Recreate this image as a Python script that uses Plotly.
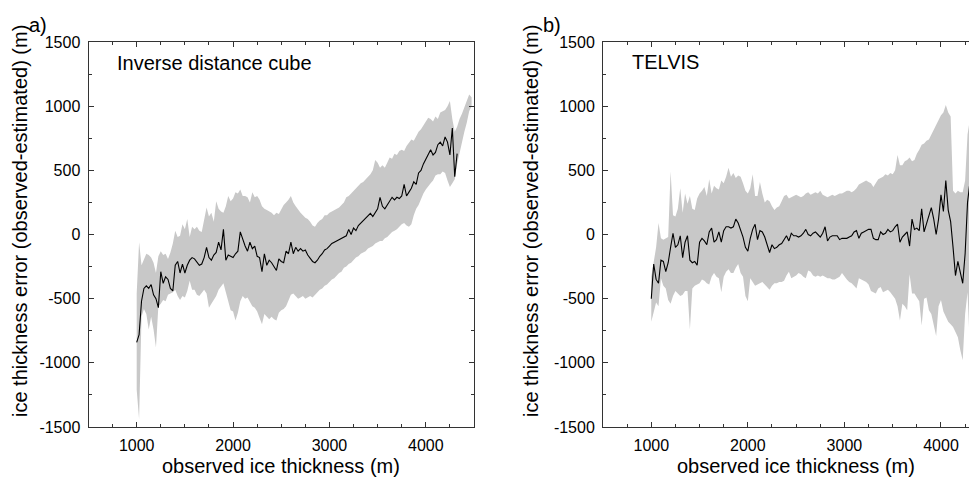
import plotly.graph_objects as go

# panel a) Inverse distance cube
thick_a = [
    1000, 1025, 1050, 1075, 1100, 1125, 1150, 1175, 1200, 1225,
    1250, 1275, 1300, 1325, 1350, 1375, 1400, 1425, 1450, 1475,
    1500, 1525, 1550, 1575, 1600, 1625, 1650, 1675, 1700, 1725,
    1750, 1775, 1800, 1825, 1850, 1875, 1900, 1925, 1950, 1975,
    2000, 2025, 2050, 2075, 2100, 2125, 2150, 2175, 2200, 2225,
    2250, 2275, 2300, 2325, 2350, 2375, 2400, 2425, 2450, 2475,
    2500, 2525, 2550, 2575, 2600, 2625, 2650, 2675, 2700, 2725,
    2750, 2775, 2800, 2825, 2850, 2875, 2900, 2925, 2950, 2975,
    3000, 3025, 3050, 3075, 3100, 3125, 3150, 3175, 3200, 3225,
    3250, 3275, 3300, 3325, 3350, 3375, 3400, 3425, 3450, 3475,
    3500, 3525, 3550, 3575, 3600, 3625, 3650, 3675, 3700, 3725,
    3750, 3775, 3800, 3825, 3850, 3875, 3900, 3925, 3950, 3975,
    4000, 4025, 4050, 4075, 4100, 4125, 4150, 4175, 4200, 4225,
    4250, 4275, 4300, 4325, 4350, 4375, 4400, 4425, 4450, 4475,
]
err_a = [
    -840, -780, -520, -420, -400, -420, -390, -470, -500, -570,
    -290, -380, -330, -350, -420, -440, -240, -210, -300, -230,
    -300, -240, -200, -180, -190, -220, -240, -230, -180, -100,
    -180, -200, -160, -140, -60, -120, 40, -200, -160, -170,
    -180, -150, -130, 20, -40, -90, -130, -60, -110, -90,
    -170, -180, -290, -150, -240, -200, -220, -250, -280, -190,
    -210, -220, -130, -150, -60, -150, -100, -130, -110, -130,
    -120, -160, -190, -210, -220, -200, -170, -150, -120, -110,
    -90, -70, -60, -50, -40, -30, -20, -10, 40, 0,
    50, 30, 70, 90, 110, 130, 150, 165, 140, 170,
    200, 290, 220, 200, 230, 260, 290, 270, 290, 280,
    300, 390, 300, 330, 360, 410, 390, 480, 500, 550,
    590, 620, 660, 620, 640, 700, 720, 690, 760, 720,
    620, 830, 450, 630,
]
err_a_hi = [
    -460, -60, -240, -200, -150, -160, -180, -220, -300, -170,
    -130, -160, -150, -190, -140, -70, 30, -20, -10, 80,
    40, 120, -20, 60, 40, 60, 30, 20, 120, 210,
    140, 170, 100, 260, 200, 180, 170, 220, 300, 260,
    280, 330, 320, 350, 300, 300, 290, 250, 330, 290,
    300, 270, 220, 200, 190, 180, 170, 150, 170, 160,
    200, 230, 250, 270, 300, 250, 220, 190, 170, 150,
    130, 120, 100, 70, 60, 90, 110, 120, 150, 150,
    170, 180, 190, 200, 210, 230, 250, 290, 300, 320,
    340, 360, 380, 400, 410, 430, 450, 470, 500, 580,
    560, 520, 540, 520, 560, 600, 590, 630, 620, 650,
    660, 650, 690, 720, 740, 730, 770, 800, 820, 850,
    870, 910, 900, 880, 920, 900, 950, 960, 970, 1000,
    1040, 900, 800, 840, 900, 940, 990, 1030, 1090, 1070,
]
err_a_lo = [
    -1210, -1440, -640, -580, -620, -740, -640, -740, -880, -560,
    -540, -510, -520, -470, -460, -450, -430, -480, -510, -480,
    -490, -440, -360, -430, -430, -470, -480, -450, -430, -460,
    -570, -540, -510, -480, -430, -400, -380, -450, -520, -590,
    -600, -670, -610, -520, -480, -500, -490, -530, -560, -570,
    -600, -650, -700, -620, -640, -660, -640, -660, -670, -610,
    -590, -580, -560, -520, -470, -460, -480, -500, -490, -480,
    -500, -490, -480, -490, -470, -450, -430, -420, -400, -390,
    -370, -350, -340, -320, -300, -290, -260, -250, -230, -220,
    -200, -180, -170, -150, -140, -130, -110, -100, -90, -70,
    -60, -50, -50, -30, -20, 0, 20, 30, 40, 60,
    80, 90, 70, 60, 80, 150, 200, 230, 280, 320,
    350, 380, 400, 420, 460, 470, 470, 490, 480, 420,
    370, 400, 430, 550, 640, 720, 800, 870, 960, 1000,
]

# panel b) TELVIS
thick_b = [
    1000, 1025, 1050, 1075, 1100, 1125, 1150, 1175, 1200, 1225,
    1250, 1275, 1300, 1325, 1350, 1375, 1400, 1425, 1450, 1475,
    1500, 1525, 1550, 1575, 1600, 1625, 1650, 1675, 1700, 1725,
    1750, 1775, 1800, 1825, 1850, 1875, 1900, 1925, 1950, 1975,
    2000, 2025, 2050, 2075, 2100, 2125, 2150, 2175, 2200, 2225,
    2250, 2275, 2300, 2325, 2350, 2375, 2400, 2425, 2450, 2475,
    2500, 2525, 2550, 2575, 2600, 2625, 2650, 2675, 2700, 2725,
    2750, 2775, 2800, 2825, 2850, 2875, 2900, 2925, 2950, 2975,
    3000, 3025, 3050, 3075, 3100, 3125, 3150, 3175, 3200, 3225,
    3250, 3275, 3300, 3325, 3350, 3375, 3400, 3425, 3450, 3475,
    3500, 3525, 3550, 3575, 3600, 3625, 3650, 3675, 3700, 3725,
    3750, 3775, 3800, 3825, 3850, 3875, 3900, 3925, 3950, 3975,
    4000, 4025, 4050, 4075, 4100, 4125, 4150, 4175, 4200, 4225,
    4250, 4275, 4300, 4325, 4350, 4375,
]
err_b = [
    -500, -230, -350, -380, -200, -210, -290, -220, -100, 10,
    -100, -80, -10, -180, -60, -10, -200, -220, -210, -240,
    -60, -30, -50, -80, 20, 50, -60, -40, 20, -60,
    30, 60, 60, 50, 60, 120, 90, 30, -20, -100,
    -130, -30, 40, 80, -40, 30, 20, -20, -90, -140,
    -80, -110, -100, -80, -70, -40, -10, -50, 10, -10,
    -10, -20, -10, 10, 40, 0, -10, 10, 20, 0,
    -20, 10, 60, -50, -20, -10, -10, -10, -40, -30,
    -30, -30, -20, -10, 20, 30, -30, 10, 20, 30,
    40, 40, -30, -40, -40, 20, 0, 10, 40, 20,
    30, 60, 80, -60, -20, 0, 20, -90, 120, 40,
    50, 30, 200, 20, 80, 140, 210, 120, 0, 120,
    310, 180, 420, 190, 100, -100, -320, -210, -300, -380,
    -150, 250, 410, 260,
]
err_b_hi = [
    -330, -200, -100, 90, -30, -40, -30, -20, 490, 150,
    140, 200, 360, 170, 320, 240, 300, 200, 190, 280,
    320, 340, 370, 300, 430, 320, 380, 360, 350, 420,
    400, 450, 520, 450, 480, 440, 460, 450, 400, 340,
    320, 360, 470, 300, 300, 410, 320, 250, 270, 260,
    220, 190, 210, 220, 260, 300, 310, 280, 290, 300,
    310, 300, 290, 300, 320, 330, 310, 320, 330, 320,
    340, 310, 300, 290, 300, 310, 300, 310, 320, 320,
    330, 340, 340, 330, 340, 360, 390, 400, 410, 420,
    410, 400, 370, 400, 430, 440, 450, 470, 460, 480,
    470, 500, 620, 540, 540, 570, 580, 600, 570, 580,
    630, 660, 700, 710, 730, 740, 780, 820, 860, 890,
    930, 950, 1010, 950, 920, 340, 320, 340, 330, 330,
    420, 780, 900, 1080, 1100, 1150,
]
err_b_lo = [
    -680, -600, -530, -560, -340, -400, -420, -510, -540, -480,
    -440, -460, -480, -470, -440, -440, -740, -420, -400, -390,
    -380, -350, -360, -380, -390, -330, -300, -330, -340, -450,
    -330, -290, -270, -300, -300, -260, -230, -300, -330, -480,
    -520, -340, -370, -400, -390, -380, -370, -390, -410, -430,
    -400, -380, -380, -370, -370, -360, -320, -290, -340, -330,
    -320, -300, -310, -330, -340, -280, -290, -320, -330, -320,
    -330, -320, -330, -340, -340, -350, -350, -340, -330, -300,
    -330, -350, -370, -380, -400, -420, -340, -350, -360, -370,
    -390, -440, -450, -460, -420, -410, -450, -440, -430, -450,
    -480, -500, -560, -670, -540, -560, -590, -310, -460, -460,
    -490, -520, -710, -500, -490, -590, -620, -700, -790, -560,
    -510, -600, -640, -680, -700, -720, -760, -800, -900, -980,
    -620, -450, -900, -1400, -1480, -1480,
]

x_ticks = [1000, 2000, 3000, 4000]
x_labels = ["1000", "2000", "3000", "4000"]
y_ticks = [-1500, -1000, -500, 0, 500, 1000, 1500]
y_labels = ["-1500", "-1000", "-500", "0", "500", "1000", "1500"]

FONT = "Liberation Sans, Arial, sans-serif"
GREY = "#c8c8c8"
FRAME = "#333333"

fig = go.Figure()


def add_panel(fig, x, mid, hi, lo, xa, ya):
    fig.add_trace(go.Scatter(x=x, y=lo, mode="lines", line=dict(width=0, color=GREY),
                             hoverinfo="skip", showlegend=False, xaxis=xa, yaxis=ya))
    fig.add_trace(go.Scatter(x=x, y=hi, mode="lines", line=dict(width=0, color=GREY),
                             fill="tonexty", fillcolor=GREY, showlegend=False,
                             xaxis=xa, yaxis=ya))
    fig.add_trace(go.Scatter(x=x[:len(mid)], y=mid, mode="lines",
                             line=dict(width=1.1, color="black"), showlegend=False,
                             xaxis=xa, yaxis=ya))


add_panel(fig, thick_a, err_a, err_a_hi, err_a_lo, "x", "y")
add_panel(fig, thick_b, err_b, err_b_hi, err_b_lo, "x2", "y2")

# the page body keeps an 8px margin, so the figure is laid out in page pixels minus 8
OFF = 8
W, H = 977 - OFF, 477 - OFF


def px(v):
    return (v - OFF) / W


def py(v):
    return 1 - (v - OFF) / H


axis_common = dict(
    showline=True, linecolor=FRAME, linewidth=1, showgrid=False, zeroline=False,
    ticks="inside", ticklen=5, tickcolor=FRAME, tickwidth=1, automargin=False,
    ticklabelstandoff=4,
    tickfont=dict(family=FONT, size=16, color="black"),
)
xaxis_common = dict(axis_common, tickvals=x_ticks, ticktext=x_labels,
                    minor=dict(dtick=250, tick0=0, ticks="inside", ticklen=3, tickcolor=FRAME))
yaxis_common = dict(axis_common, range=[-1500, 1500], tickvals=y_ticks, ticktext=y_labels,
                    minor=dict(dtick=250, tick0=0, ticks="inside", ticklen=3, tickcolor=FRAME))

ydom = [py(427), py(42)]

fig.update_layout(
    width=W, height=H,
    margin=dict(l=0, r=0, t=0, b=0, autoexpand=False),
    paper_bgcolor="white", plot_bgcolor="white",
    font=dict(family=FONT, color="black"),
    xaxis=dict(xaxis_common, domain=[px(88.5), px(474)], range=[500, 4500],
               mirror="allticks", anchor="y"),
    yaxis=dict(yaxis_common, domain=ydom, mirror="allticks", anchor="x"),
    xaxis2=dict(xaxis_common, domain=[px(603), 1.0], range=[500, 4373],
                mirror="allticks", anchor="y2"),
    yaxis2=dict(yaxis_common, domain=ydom, mirror=False, anchor="x2"),
)

ann = []
ann.append(dict(text="a)", x=px(27), y=py(25), xanchor="left", yanchor="middle"))
ann.append(dict(text="b)", x=px(541), y=py(25), xanchor="left", yanchor="middle"))
ann.append(dict(text="Inverse distance cube", x=px(115), y=py(63),
                xanchor="left", yanchor="middle"))
ann.append(dict(text="TELVIS", x=px(630), y=py(62), xanchor="left", yanchor="middle"))
for cx in [20, 531]:
    ann.append(dict(text="ice thickness error (observed-estimated) (m)", x=px(cx),
                    y=py(221), textangle=-90, xanchor="center", yanchor="middle"))
for cx in [281, 796]:
    ann.append(dict(text="observed ice thickness (m)", x=px(cx), y=py(466),
                    xanchor="center", yanchor="middle"))
for a in ann:
    a.update(xref="paper", yref="paper", showarrow=False,
             font=dict(family=FONT, size=20, color="black"))
fig.update_layout(annotations=ann)

fig.write_html("out.html")
